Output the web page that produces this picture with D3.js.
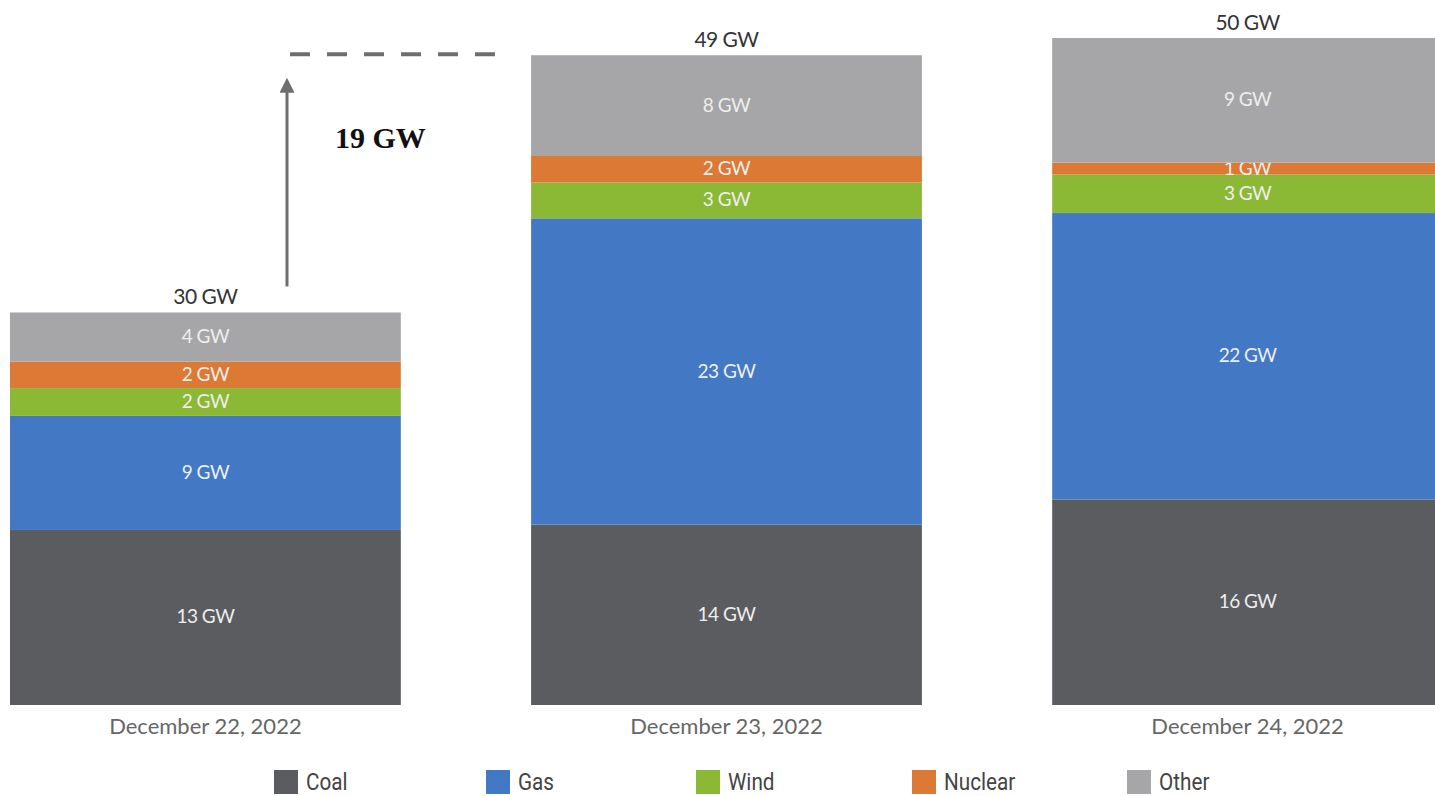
<!DOCTYPE html>
<html>
<head>
<meta charset="utf-8">
<script src="https://cdn.jsdelivr.net/npm/d3@7"></script>
<style>
  body { margin: 0; background: #fff; }
  svg { display: block; }
</style>
</head>
<body>
<svg id="ch" width="1435" height="796"></svg>
<script>
// data (GW)
var days    = ["December 22, 2022", "December 23, 2022", "December 24, 2022"];
var fuels   = ["Coal", "Gas", "Wind", "Nuclear", "Other"];
var coal    = [13.2, 13.6, 15.5];
var gas     = [8.6, 23.1, 21.6];
var wind    = [2.1, 2.7, 2.9];
var nuclear = [2.0, 2.0, 0.9];
var other   = [3.7, 7.6, 9.4];
var increase = "19 GW";

var colors = ["#5b5c60", "#4379c4", "#8cb935", "#dc7935", "#a6a6a8"];

var rows = days.map(function (d, i) {
    return {day: d, Coal: coal[i], Gas: gas[i], Wind: wind[i], Nuclear: nuclear[i], Other: other[i]};
});
var totals = rows.map(function (r) { return d3.sum(fuels, function (f) { return r[f]; }); });

var svg = d3.select("#ch");

var x = d3.scaleBand()
    .domain(days)
    .range([10, 1443])
    .paddingInner(0.25);
var y = d3.scaleLinear()
    .domain([0, d3.max(totals)])
    .range([705, 38]);
var color = d3.scaleOrdinal().domain(fuels).range(colors);

var stack = d3.stack().keys(fuels);
var series = stack(rows);

var layer = svg.selectAll(".series")
    .data(series)
    .enter()
    .append("g")
    .attr("class", "series")
    .attr("fill", function (d) { return color(d.key); });

layer.selectAll("rect")
    .data(function (d) { return d; })
    .enter()
    .append("rect")
    .attr("x", function (d) { return x(d.data.day); })
    .attr("y", function (d) { return y(d[1]); })
    .attr("width", x.bandwidth())
    .attr("height", function (d) { return y(d[0]) - y(d[1]); });

// segment labels
layer.selectAll("text")
    .data(function (d) { return d; })
    .enter()
    .append("text")
    .attr("x", function (d) { return x(d.data.day) + x.bandwidth() / 2; })
    .attr("y", function (d) { return (y(d[0]) + y(d[1])) / 2 + 6; })
    .attr("text-anchor", "middle")
    .style("font-family", "Lato, 'Open Sans', sans-serif")
    .style("font-size", "19px")
    .style("letter-spacing", "-0.5px")
    .style("fill", "#eeeeee")
    .text(function (d) { return Math.round(d[1] - d[0] + 1e-9) + " GW"; });

// totals
svg.selectAll(".total")
    .data(rows)
    .enter()
    .append("text")
    .attr("class", "total")
    .attr("x", function (d) { return x(d.day) + x.bandwidth() / 2; })
    .attr("y", function (d, i) { return y(totals[i]) - 8; })
    .attr("text-anchor", "middle")
    .style("font-family", "Lato, 'Open Sans', sans-serif")
    .style("font-size", "21px")
    .style("letter-spacing", "-0.5px")
    .style("fill", "#333")
    .text(function (d, i) { return Math.round(totals[i]) + " GW"; });

// x labels
svg.selectAll(".xlab")
    .data(days)
    .enter()
    .append("text")
    .attr("class", "xlab")
    .attr("x", function (d) { return x(d) + x.bandwidth() / 2; })
    .attr("y", 734)
    .attr("text-anchor", "middle")
    .style("font-family", "Lato, 'Open Sans', sans-serif")
    .style("font-size", "22px")
    .style("fill", "#666")
    .text(function (d) { return d; });

// annotation: arrow + dashed line to day 2 level
svg.append("defs").append("marker")
    .attr("id", "head")
    .attr("viewBox", "0 0 10 10")
    .attr("refX", 5).attr("refY", 5)
    .attr("markerWidth", 5).attr("markerHeight", 5)
    .attr("orient", "auto")
    .append("path")
    .attr("d", "M0,0 L10,5 L0,10 z")
    .attr("fill", "#6e6e6e");

svg.append("line")
    .attr("x1", 287).attr("x2", 287)
    .attr("y1", y(totals[0]) - 26)
    .attr("y2", y(totals[1]) + 30)
    .attr("stroke", "#6e6e6e")
    .attr("stroke-width", 3)
    .attr("marker-end", "url(#head)");

svg.append("line")
    .attr("x1", 290).attr("x2", 496)
    .attr("y1", y(totals[1]) - 1)
    .attr("y2", y(totals[1]) - 1)
    .attr("stroke", "#6e6e6e")
    .attr("stroke-width", 4)
    .attr("stroke-dasharray", "20,17");

svg.append("text")
    .attr("x", 335)
    .attr("y", 148)
    .style("font-family", "'Liberation Serif', 'DejaVu Serif', serif")
    .style("font-weight", "bold")
    .style("font-size", "30px")
    .style("fill", "#111")
    .text(increase);

// legend
var legX = [274, 486, 696, 912, 1127];
var leg = svg.selectAll(".leg")
    .data(fuels)
    .enter()
    .append("g")
    .attr("class", "leg")
    .attr("transform", function (d, i) { return "translate(" + legX[i] + ",770)"; });

leg.append("rect")
    .attr("width", 24)
    .attr("height", 24)
    .attr("fill", function (d) { return color(d); });

leg.append("text")
    .attr("transform", "translate(32,20) scale(0.9,1)")
    .style("font-family", "Roboto, 'Liberation Sans', sans-serif")
    .style("font-size", "23px")
    .style("fill", "#444")
    .text(function (d) { return d; });
</script>
</body>
</html>
